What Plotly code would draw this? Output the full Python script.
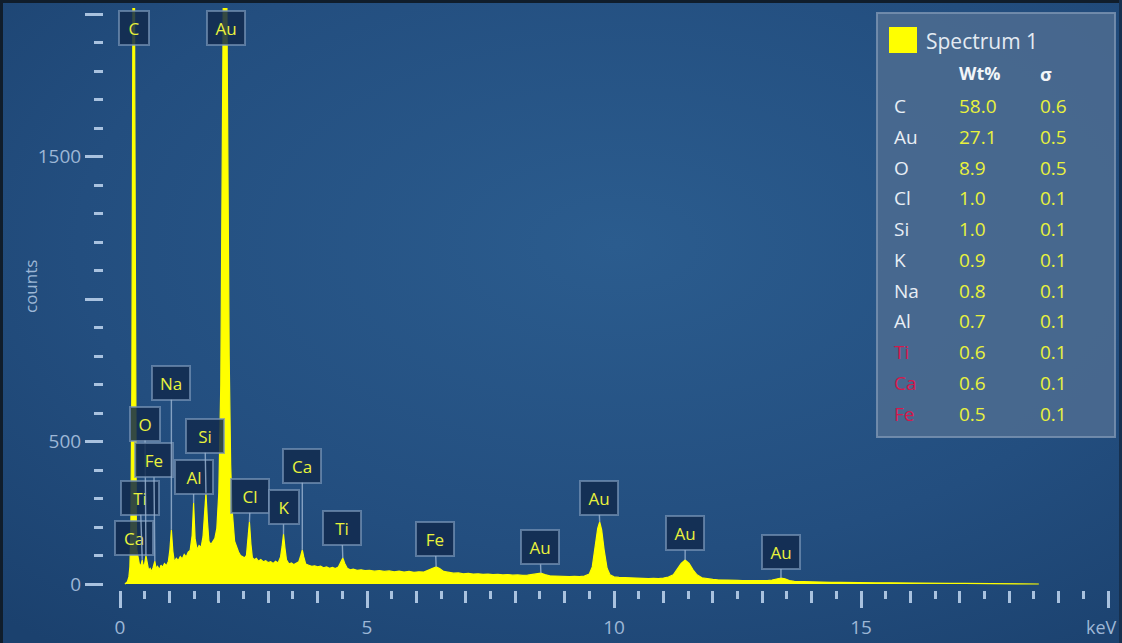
import base64
import plotly.graph_objects as go

# ---- EDS spectrum (energy in keV, counts) ----
energy_kev = [
    0.10, 0.15, 0.18, 0.20, 0.22, 0.24, 0.255, 0.268, 0.277, 0.287,
    0.30, 0.315, 0.33, 0.34, 0.36, 0.38, 0.40, 0.43, 0.45, 0.47,
    0.50, 0.525, 0.55, 0.58, 0.61, 0.64, 0.67, 0.705, 0.73, 0.76,
    0.80, 0.83, 0.86, 0.90, 0.94, 0.98, 1.01, 1.04, 1.07, 1.10,
    1.14, 1.18, 1.22, 1.26, 1.30, 1.34, 1.38, 1.42, 1.46, 1.49,
    1.52, 1.56, 1.60, 1.64, 1.68, 1.71, 1.74, 1.77, 1.80, 1.84,
    1.88, 1.92, 1.96, 2.00, 2.04, 2.07, 2.10, 2.125, 2.15, 2.18,
    2.21, 2.24, 2.27, 2.32, 2.36, 2.40, 2.44, 2.48, 2.52, 2.56,
    2.59, 2.62, 2.65, 2.68, 2.72, 2.76, 2.80, 2.85, 2.90, 2.95,
    3.00, 3.05, 3.10, 3.15, 3.20, 3.25, 3.28, 3.31, 3.34, 3.37,
    3.42, 3.47, 3.52, 3.57, 3.62, 3.66, 3.69, 3.72, 3.76, 3.82,
    3.88, 3.94, 4.00, 4.06, 4.12, 4.18, 4.24, 4.30, 4.36, 4.42,
    4.47, 4.51, 4.55, 4.60, 4.66, 4.72, 4.80, 4.88, 4.96, 5.05,
    5.15, 5.25, 5.35, 5.45, 5.55, 5.65, 5.75, 5.85, 5.95, 6.05,
    6.15, 6.25, 6.33, 6.40, 6.47, 6.55, 6.65, 6.75, 6.85, 6.95,
    7.05, 7.15, 7.25, 7.35, 7.45, 7.55, 7.65, 7.75, 7.85, 7.95,
    8.05, 8.15, 8.25, 8.35, 8.45, 8.52, 8.60, 8.70, 8.80, 8.90,
    9.00, 9.10, 9.20, 9.30, 9.40, 9.50, 9.56, 9.62, 9.67, 9.71,
    9.75, 9.80, 9.86, 9.92, 10.00, 10.10, 10.20, 10.30, 10.40, 10.50,
    10.60, 10.70, 10.80, 10.90, 11.00, 11.10, 11.20, 11.28, 11.36, 11.44,
    11.52, 11.60, 11.68, 11.78, 11.90, 12.00, 12.10, 12.20, 12.30, 12.40,
    12.50, 12.60, 12.70, 12.80, 12.90, 13.00, 13.10, 13.20, 13.30, 13.38,
    13.46, 13.55, 13.65, 13.80, 14.00, 14.20, 14.40, 14.60, 14.80, 15.00,
    15.30, 15.60, 15.90, 16.20, 16.50, 16.80, 17.10, 17.40, 17.70, 18.00,
    18.30, 18.60,
]
counts = [
    0, 8, 25, 60, 200, 700, 1700, 2500, 2800, 2500,
    1700, 700, 220, 120, 95, 70, 62, 70, 85, 60,
    72, 100, 68, 48, 55, 44, 58, 80, 55, 62,
    50, 66, 58, 72, 64, 80, 120, 190, 115, 78,
    90, 82, 96, 88, 104, 95, 112, 118, 170, 284,
    160, 120, 135, 128, 165, 230, 320, 220, 150, 138,
    150, 160, 195, 320, 700, 1500, 2400, 3000, 2400, 1500,
    800, 420, 260, 150, 128, 112, 100, 96, 92, 100,
    150, 218, 140, 92, 85, 90, 80, 86, 78, 82,
    75, 78, 72, 80, 74, 95, 130, 175, 125, 85,
    70, 74, 68, 72, 78, 100, 120, 95, 70, 66,
    62, 64, 60, 63, 57, 60, 55, 58, 54, 60,
    75, 91, 72, 55, 50, 52, 48, 50, 47, 48,
    45, 47, 44, 46, 43, 45, 42, 44, 41, 43,
    42, 48, 55, 60, 54, 44, 40, 38, 39, 36,
    37, 35, 36, 34, 35, 33, 34, 32, 33, 31,
    32, 30, 31, 34, 37, 38, 33, 29, 28, 27,
    27, 26, 27, 26, 28, 35, 60, 130, 195, 218,
    190, 120, 55, 32, 25, 23, 22, 21, 21, 20,
    20, 19, 20, 19, 21, 24, 32, 50, 72, 84,
    72, 50, 32, 22, 18, 16, 15, 15, 14, 13,
    13, 12, 12, 11, 11, 11, 12, 14, 19, 21,
    18, 12, 9, 8, 8, 7, 6, 6, 5, 5,
    4, 4, 3, 3, 3, 2, 2, 2, 1, 1,
    1, 0,
]

# ---- peak identifications: element and line energy (keV) ----
peak_elements = ["Ca", "Ti", "O", "Fe", "Na", "Al", "Si", "Cl", "K", "Ca",
                 "Ti", "Fe", "Au", "Au", "Au", "Au"]
peak_energies = [0.34, 0.45, 0.525, 0.705, 1.04, 1.49, 1.74, 2.62, 3.31, 3.69,
                 4.51, 6.40, 8.52, 9.71, 11.44, 13.38]
# label box offsets from the peak top, in pixels
peak_label_dx = [-3, -2, -1, -1, 0, 0, -1, 1, 0, 0, -1, -1, -1, -1, 0, 0]
peak_label_dy = [-12, -62, -132, -101, -147, -26, -57, -26, -27, -84,
                 -30, -28, -26, -24, -27, -26]
# strongest lines run off the top of the scale; labelled at the top edge
top_elements = ["C", "Au"]
top_energies = [0.277, 2.14]

# ---- quantification table ----
quant_elements = ["C", "Au", "O", "Cl", "Si", "K", "Na", "Al", "Ti", "Ca", "Fe"]
quant_wt = [58.0, 27.1, 8.9, 1.0, 1.0, 0.9, 0.8, 0.7, 0.6, 0.6, 0.5]
quant_sigma = [0.6, 0.5, 0.5, 0.1, 0.1, 0.1, 0.1, 0.1, 0.1, 0.1, 0.1]
flagged = ["Ti", "Ca", "Fe"]

# x ticks / y ticks
x_major = [0, 5, 10, 15, 20]
x_major_text = ["0", "5", "10", "15", ""]
y_major = [0, 500, 1000, 1500, 2000]
y_major_text = ["0", "500", "", "1500", ""]

# ---- styling ----
FONT = "Open Sans, Noto Sans, sans-serif"
TICK_C = "#a9c2df"
LABEL_C = "#9db7d6"
YELLOW = "#ffff00"
PEAK_TXT = "#e9f23c"
BOX_BG = "rgba(18,42,78,0.85)"
BOX_BORDER = "rgba(120,148,182,0.7)"
ARROW_C = "rgba(150,176,206,0.85)"

W, H = 1122, 643
ML, MR, MT, MB = 104, 10, 8, 53
PW, PH = W - ML - MR, H - MT - MB
X_PX_PER_KEV = 49.4
Y_PX_PER_COUNT = 0.285
x0 = -(120 - ML) / X_PX_PER_KEV
x1 = x0 + PW / X_PX_PER_KEV
y0 = -((MT + PH) - 584) / Y_PX_PER_COUNT
y1 = y0 + PH / Y_PX_PER_COUNT


def px(x):
    return (x - ML) / PW


def py(y):
    return (MT + PH - y) / PH


# background gradient with the dark frame edges
svg = (
    f"<svg xmlns='http://www.w3.org/2000/svg' width='{W}' height='{H}'>"
    "<defs><radialGradient id='g' cx='0.55' cy='0.38' r='0.8'>"
    "<stop offset='0' stop-color='#2b5c8e'/>"
    "<stop offset='0.6' stop-color='#234e7f'/>"
    "<stop offset='1' stop-color='#1b416e'/>"
    "</radialGradient></defs>"
    f"<rect width='{W}' height='{H}' fill='url(#g)'/>"
    f"<rect x='0' y='0' width='3' height='{H}' fill='#101d2b'/>"
    f"<rect x='0' y='0' width='{W}' height='3' fill='#101d2b'/>"
    f"<rect x='{W-3}' y='0' width='3' height='{H}' fill='#16304f'/>"
    "</svg>"
)
bg_uri = "data:image/svg+xml;base64," + base64.b64encode(svg.encode()).decode()

fig = go.Figure()

fig.add_trace(go.Scatter(
    x=energy_kev, y=counts, mode="lines",
    line=dict(color=YELLOW, width=1.2),
    fill="tozeroy", fillcolor=YELLOW,
    hoverinfo="skip", cliponaxis=True,
))
# helper trace so the secondary tick axis is drawn
fig.add_trace(go.Scatter(
    x=[energy_kev[0]], y=[counts[0]], xaxis="x2", mode="markers",
    marker=dict(size=0.1, opacity=0), hoverinfo="skip",
))

annotations = []

# peak labels with leader lines to each peak top
for el, e, dx, dy in zip(peak_elements, peak_energies, peak_label_dx, peak_label_dy):
    c = counts[energy_kev.index(e)]
    annotations.append(dict(
        x=e, y=c, xref="x", yref="y", text=el,
        showarrow=True, arrowhead=0, arrowwidth=1.4, arrowcolor=ARROW_C,
        ax=dx, ay=dy, standoff=0,
        font=dict(family=FONT, size=17, color=PEAK_TXT),
        bgcolor=BOX_BG, bordercolor=BOX_BORDER, borderwidth=2, borderpad=3,
        width=22 if len(el) == 1 else 30, height=26,
    ))

for el, e in zip(top_elements, top_energies):
    annotations.append(dict(
        x=e, y=py(28), xref="x", yref="paper", text=el, showarrow=False,
        xanchor="center", yanchor="middle",
        font=dict(family=FONT, size=17, color=PEAK_TXT),
        bgcolor=BOX_BG, bordercolor=BOX_BORDER, borderwidth=2, borderpad=3,
        width=22 if len(el) == 1 else 30, height=26,
    ))

# axis captions
annotations.append(dict(
    x=px(1119), y=py(627), xref="paper", yref="paper", text="keV",
    showarrow=False, xanchor="right", yanchor="middle",
    font=dict(family=FONT, size=18, color=LABEL_C),
))
annotations.append(dict(
    x=px(30), y=py(287), xref="paper", yref="paper", text="counts",
    showarrow=False, textangle=-90, xanchor="center", yanchor="middle",
    font=dict(family=FONT, size=17, color=LABEL_C),
))

# quantification panel
shapes = [
    dict(type="rect", xref="paper", yref="paper",
         x0=px(877), x1=px(1115), y0=py(437), y1=py(13),
         fillcolor="rgba(78,108,145,0.85)",
         line=dict(color="rgba(118,143,174,0.9)", width=2), layer="above"),
    dict(type="rect", xref="paper", yref="paper",
         x0=px(889), x1=px(917), y0=py(53), y1=py(27),
         fillcolor=YELLOW, line=dict(width=0), layer="above"),
]
annotations.append(dict(
    x=px(924), y=py(41), xref="paper", yref="paper", text="Spectrum 1",
    showarrow=False, xanchor="left", yanchor="middle",
    font=dict(family=FONT, size=21, color="#e4ebf3"),
))
annotations.append(dict(
    x=px(957), y=py(73), xref="paper", yref="paper", text="<b>Wt%</b>",
    showarrow=False, xanchor="left", yanchor="middle",
    font=dict(family=FONT, size=18, color="#f2f5f8"),
))
annotations.append(dict(
    x=px(1038), y=py(74), xref="paper", yref="paper", text="<b>σ</b>",
    showarrow=False, xanchor="left", yanchor="middle",
    font=dict(family=FONT, size=18, color="#f2f5f8"),
))
ROW0, ROW_STEP = 106, 30.75
for i, (el, wt, sg) in enumerate(zip(quant_elements, quant_wt, quant_sigma)):
    yy = py(ROW0 + i * ROW_STEP)
    el_color = "#d4194c" if el in flagged else "#e8eef5"
    annotations.append(dict(
        x=px(892), y=yy, xref="paper", yref="paper", text=el, showarrow=False,
        xanchor="left", yanchor="middle",
        font=dict(family=FONT, size=19, color=el_color),
    ))
    annotations.append(dict(
        x=px(957), y=yy, xref="paper", yref="paper", text=f"{wt:.1f}",
        showarrow=False, xanchor="left", yanchor="middle",
        font=dict(family=FONT, size=19, color=PEAK_TXT),
    ))
    annotations.append(dict(
        x=px(1038), y=yy, xref="paper", yref="paper", text=f"{sg:.1f}",
        showarrow=False, xanchor="left", yanchor="middle",
        font=dict(family=FONT, size=19, color=PEAK_TXT),
    ))

fig.update_layout(
    width=W, height=H,
    margin=dict(l=ML, r=MR, t=MT, b=MB, autoexpand=False),
    paper_bgcolor="#1f4674",
    plot_bgcolor="rgba(0,0,0,0)",
    showlegend=False,
    images=[dict(
        source=bg_uri, xref="paper", yref="paper",
        x=px(0), y=py(0), sizex=W / PW, sizey=H / PH,
        xanchor="left", yanchor="top", sizing="stretch", layer="below",
    )],
    xaxis=dict(
        range=[x0, x1], showgrid=False, zeroline=False, showline=False,
        automargin=False,
        tickmode="array", tickvals=x_major, ticktext=x_major_text,
        ticks="outside", ticklen=17, tickwidth=3, tickcolor=TICK_C,
        tickfont=dict(family=FONT, size=19, color=LABEL_C),
        ticklabelstandoff=3,
        minor=dict(ticks="outside", tickmode="linear", tick0=0, dtick=0.5,
                   ticklen=8, tickwidth=3, tickcolor=TICK_C, showgrid=False),
    ),
    xaxis2=dict(
        range=[x0, x1], overlaying="x", anchor="y", side="bottom",
        automargin=False,
        tickmode="linear", tick0=0, dtick=1, ticks="outside", ticklen=12,
        tickwidth=3, tickcolor=TICK_C, showticklabels=False,
        showgrid=False, zeroline=False, showline=False,
    ),
    yaxis=dict(
        range=[y0, y1], showgrid=False, zeroline=False, showline=False,
        automargin=False,
        tickmode="array", tickvals=y_major, ticktext=y_major_text,
        ticks="outside", ticklen=18, tickwidth=3, tickcolor=TICK_C,
        tickfont=dict(family=FONT, size=19, color=LABEL_C),
        minor=dict(ticks="outside", tickmode="linear", tick0=0, dtick=100,
                   ticklen=9, tickwidth=3, tickcolor=TICK_C, showgrid=False),
    ),
    annotations=annotations,
    shapes=shapes,
)

fig.write_html("out.html")
